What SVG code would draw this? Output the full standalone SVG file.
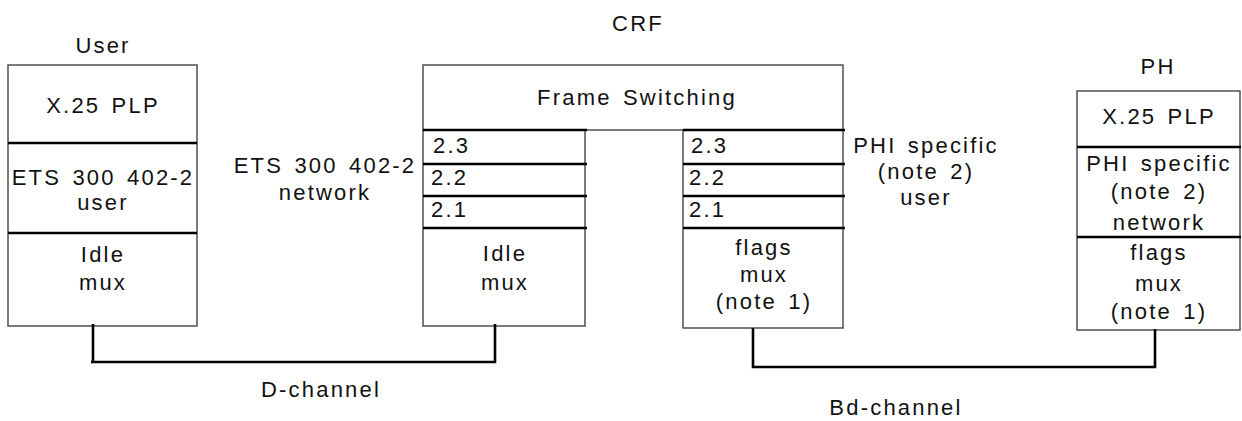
<svg xmlns="http://www.w3.org/2000/svg" width="1242" height="421" viewBox="0 0 1242 421">
<style>
text{font-family:"Liberation Sans",Arial,sans-serif;font-size:22px;letter-spacing:2.2px;word-spacing:3px;fill:#111;text-anchor:middle}
.l{text-anchor:start}
.box{fill:#fff;stroke:#444;stroke-width:1.4}
.div{stroke:#000;stroke-width:2.4;fill:none}
.con{stroke:#000;stroke-width:2.6;fill:none}
</style>
<rect width="1242" height="421" fill="#fff"/>
<g id="user">
<text x="103" y="53">User</text>
<rect class="box" x="8" y="65" width="189" height="261"/>
<line class="div" x1="8" y1="143" x2="197" y2="143"/>
<line class="div" x1="8" y1="233" x2="197" y2="233"/>
<text x="103" y="113">X.25 PLP</text>
<text x="103" y="185">ETS 300 402-2</text>
<text x="103" y="210">user</text>
<text x="103" y="262">Idle</text>
<text x="103" y="290">mux</text>
</g>
<g id="crf">
<text x="638" y="31">CRF</text>
<rect class="box" x="423" y="65" width="420" height="65"/>
<text x="637" y="105">Frame Switching</text>
</g>
<g id="crf-left">
<rect class="box" x="423" y="130" width="162" height="196"/>
<line class="div" x1="423" y1="130" x2="587" y2="130"/>
<line class="div" x1="423" y1="164" x2="587" y2="164"/>
<line class="div" x1="423" y1="196" x2="587" y2="196"/>
<line class="div" x1="423" y1="228" x2="587" y2="228"/>
<text class="l" x="433" y="153">2.3</text>
<text class="l" x="431" y="185">2.2</text>
<text class="l" x="431" y="217">2.1</text>
<text x="505" y="261">Idle</text>
<text x="505" y="290">mux</text>
</g>
<g id="label-ets-network">
<text x="325" y="173">ETS 300 402-2</text>
<text x="325" y="200">network</text>
</g>
<g id="crf-right">
<rect class="box" x="683" y="130" width="160" height="198"/>
<line class="div" x1="683" y1="130" x2="845" y2="130"/>
<line class="div" x1="683" y1="164" x2="845" y2="164"/>
<line class="div" x1="683" y1="196" x2="845" y2="196"/>
<line class="div" x1="683" y1="228" x2="845" y2="228"/>
<text class="l" x="691" y="153">2.3</text>
<text class="l" x="689" y="185">2.2</text>
<text class="l" x="689" y="217">2.1</text>
<text x="764" y="255">flags</text>
<text x="764" y="282">mux</text>
<text x="764" y="309">(note 1)</text>
</g>
<g id="label-phi-user">
<text x="926" y="153">PHI specific</text>
<text x="926" y="179">(note 2)</text>
<text x="926" y="205">user</text>
</g>
<g id="ph">
<text x="1158" y="74">PH</text>
<rect class="box" x="1077" y="91" width="163" height="239"/>
<line class="div" x1="1077" y1="147" x2="1241" y2="147"/>
<line class="div" x1="1077" y1="237" x2="1241" y2="237"/>
<text x="1159" y="124">X.25 PLP</text>
<text x="1159" y="171">PHI specific</text>
<text x="1159" y="199">(note 2)</text>
<text x="1159" y="230">network</text>
<text x="1159" y="260">flags</text>
<text x="1159" y="291">mux</text>
<text x="1159" y="319">(note 1)</text>
</g>
<g id="connectors">
<polyline class="con" points="93,324 93,362 495,362 495,324"/>
<line class="con" x1="91" y1="362" x2="93" y2="362"/>
<polyline class="con" points="753,328 753,367 1155,367 1155,329"/>
<text x="321" y="397">D-channel</text>
<text x="896" y="415">Bd-channel</text>
</g>
</svg>
